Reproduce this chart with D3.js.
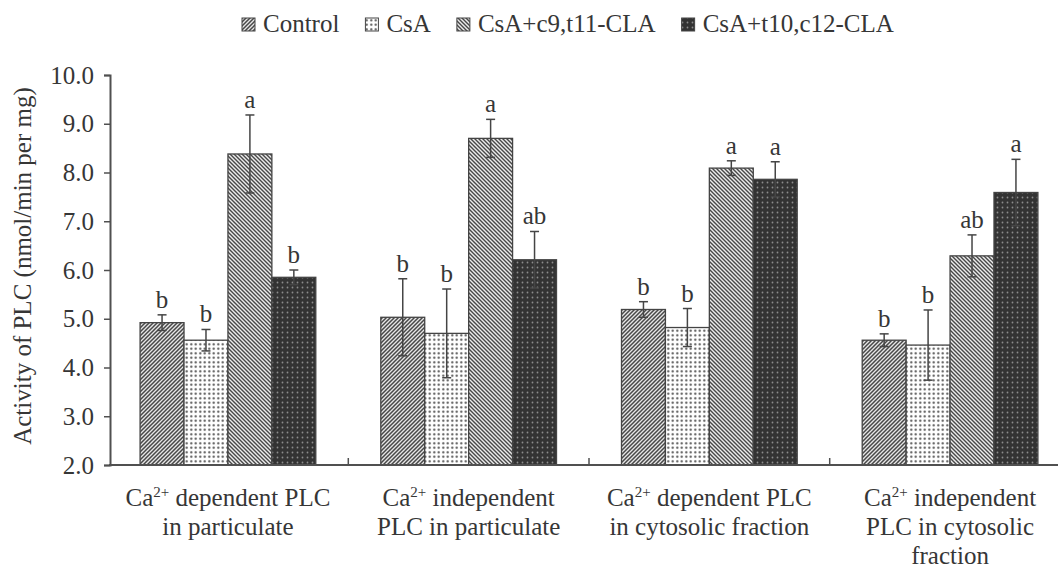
<!DOCTYPE html>
<html>
<head>
<meta charset="utf-8">
<script src="https://cdn.jsdelivr.net/npm/d3@7"></script>
<style>
  body { margin: 0; background: #fff; }
  svg { display: block; }
  text { font-family: "Liberation Serif", "Times New Roman", serif; fill: #363636; }
</style>
</head>
<body>
<div id="chart"></div>
<script>
// category labels, one array of lines per group ("Ca2+" gets a superscript)
var categories = [
  ["Ca2+ dependent PLC", "in particulate"],
  ["Ca2+ independent", "PLC in particulate"],
  ["Ca2+ dependent PLC", "in cytosolic fraction"],
  ["Ca2+ independent", "PLC in cytosolic", "fraction"]
];

var seriesNames = ["Control", "CsA", "CsA+c9,t11-CLA", "CsA+t10,c12-CLA"];

var control    = [4.92, 5.03, 5.19, 4.56];
var controlErr = [0.16, 0.79, 0.16, 0.13];
var csa        = [4.56, 4.70, 4.82, 4.46];
var csaErr     = [0.22, 0.91, 0.39, 0.72];
var c9t11      = [8.38, 8.70, 8.09, 6.29];
var c9t11Err   = [0.80, 0.39, 0.15, 0.43];
var t10c12     = [5.85, 6.21, 7.86, 7.59];
var t10c12Err  = [0.15, 0.58, 0.36, 0.68];

var controlLetters = ["b", "b", "b", "b"];
var csaLetters     = ["b", "b", "b", "b"];
var c9t11Letters   = ["a", "a", "a", "ab"];
var t10c12Letters  = ["b", "ab", "a", "a"];

var yTicks = [2, 3, 4, 5, 6, 7, 8, 9, 10];

var svgWidth = 1058;
var svgHeight = 571;

var plot = { left: 110, right: 1068, top: 75, bottom: 465 };
var fontSize = 25;
var serif = "Liberation Serif, Times New Roman, serif";
var ink = "#363636";
var axisColor = "#505050";

var values = [control, csa, c9t11, t10c12];
var errors = [controlErr, csaErr, c9t11Err, t10c12Err];
var letters = [controlLetters, csaLetters, c9t11Letters, t10c12Letters];
var fills = ["url(#pControl)", "url(#pCsA)", "url(#pC9)", "url(#pT10)"];

var svg = d3.select("#chart")
  .append("svg")
  .attr("width", svgWidth)
  .attr("height", svgHeight)
  .attr("font-family", serif);

makePatterns(svg.append("defs"));

var x0 = d3.scaleBand()
  .domain(d3.range(categories.length))
  .range([plot.left, plot.right])
  .paddingInner(0.27)
  .paddingOuter(0.125);

var x1 = d3.scaleBand()
  .domain(d3.range(seriesNames.length))
  .range([0, x0.bandwidth()]);

var y = d3.scaleLinear()
  .domain([2, 10])
  .range([plot.bottom, plot.top]);

// bars, one row per (category, series)
var rows = [];
categories.forEach((c, i) => {
  seriesNames.forEach((s, j) => {
    rows.push({ cat: i, ser: j, v: values[j][i], e: errors[j][i], l: letters[j][i] });
  });
});

var bars = svg.append("g");

bars.selectAll("rect")
  .data(rows)
  .enter()
  .append("rect")
  .attr("x", d => x0(d.cat) + x1(d.ser))
  .attr("y", d => y(d.v))
  .attr("width", x1.bandwidth())
  .attr("height", d => y(2) - y(d.v))
  .attr("fill", d => fills[d.ser])
  .attr("stroke", "#444")
  .attr("stroke-width", 1.3);

// error bars
var errG = svg.append("g")
  .attr("stroke", "#454545")
  .attr("stroke-width", 1.5);

rows.forEach(d => {
  var cx = x0(d.cat) + x1(d.ser) + x1.bandwidth() / 2;
  errG.append("line")
    .attr("x1", cx).attr("x2", cx)
    .attr("y1", y(d.v + d.e)).attr("y2", y(d.v - d.e));
  errG.append("line")
    .attr("x1", cx - 4.5).attr("x2", cx + 4.5)
    .attr("y1", y(d.v + d.e)).attr("y2", y(d.v + d.e));
  errG.append("line")
    .attr("x1", cx - 4.5).attr("x2", cx + 4.5)
    .attr("y1", y(d.v - d.e)).attr("y2", y(d.v - d.e));
});

// significance letters
svg.append("g")
  .selectAll("text")
  .data(rows)
  .enter()
  .append("text")
  .attr("x", d => x0(d.cat) + x1(d.ser) + x1.bandwidth() / 2)
  .attr("y", d => y(d.v + d.e) - 7)
  .attr("text-anchor", "middle")
  .attr("font-size", fontSize)
  .text(d => d.l);

// y axis
var yAxis = d3.axisLeft(y)
  .tickValues(yTicks)
  .tickFormat(d3.format(".1f"))
  .tickSize(6)
  .tickPadding(10);

var yG = svg.append("g")
  .attr("transform", `translate(${plot.left}, 0)`)
  .call(yAxis)
  .attr("font-family", serif);

yG.select(".domain").attr("stroke", axisColor).attr("stroke-width", 2);
yG.selectAll(".tick line").attr("stroke", axisColor).attr("stroke-width", 1.5);
yG.selectAll(".tick text")
  .attr("font-size", fontSize)
  .attr("fill", ink);

// x axis line with group separator ticks
var xG = svg.append("g");
xG.append("line")
  .attr("x1", plot.left - 1).attr("x2", plot.right)
  .attr("y1", y(2)).attr("y2", y(2))
  .attr("stroke", axisColor)
  .attr("stroke-width", 2);

var gap = x0.step() * x0.paddingInner() / 2;
xG.selectAll(".sep")
  .data(d3.range(1, categories.length))
  .enter()
  .append("line")
  .attr("x1", d => x0(d) - gap).attr("x2", d => x0(d) - gap)
  .attr("y1", y(2)).attr("y2", y(2) - 7)
  .attr("stroke", axisColor)
  .attr("stroke-width", 1.5);

// category labels
categories.forEach((lines, i) => {
  lines.forEach((line, k) => {
    var t = svg.append("text")
      .attr("x", x0(i) + x0.bandwidth() / 2)
      .attr("y", 506 + k * 29)
      .attr("text-anchor", "middle")
      .attr("font-size", fontSize);
    if (line.indexOf("Ca2+") === 0) {
      t.append("tspan").text("Ca");
      t.append("tspan").attr("font-size", 15).attr("dy", -9).text("2+");
      t.append("tspan").attr("dy", 9).text(line.slice(4));
    } else {
      t.text(line);
    }
  });
});

// y title
svg.append("text")
  .attr("transform", "rotate(-90)")
  .attr("x", -266)
  .attr("y", 31)
  .attr("text-anchor", "middle")
  .attr("font-size", fontSize)
  .text("Activity of PLC (nmol/min per mg)");

// legend
var legend = svg.append("g");
var lx = 242;
seriesNames.forEach((s, j) => {
  legend.append("rect")
    .attr("x", lx).attr("y", 18)
    .attr("width", 13).attr("height", 13)
    .attr("fill", fills[j])
    .attr("stroke", "#444")
    .attr("stroke-width", 1);
  var t = legend.append("text")
    .attr("x", lx + 21)
    .attr("y", 32)
    .attr("font-size", fontSize)
    .text(s);
  lx = lx + 21 + t.node().getComputedTextLength() + 26;
});

function makePatterns(defs) {
  var p = defs.append("pattern")
    .attr("id", "pControl")
    .attr("patternUnits", "userSpaceOnUse")
    .attr("width", 4).attr("height", 4);
  p.append("rect").attr("width", 4).attr("height", 4).attr("fill", "#e6e6e6");
  p.append("path")
    .attr("d", "M-1,1 l2,-2 M0,4 l4,-4 M3,5 l2,-2")
    .attr("stroke", "#484848")
    .attr("stroke-width", 1.5);

  p = defs.append("pattern")
    .attr("id", "pC9")
    .attr("patternUnits", "userSpaceOnUse")
    .attr("width", 4).attr("height", 4);
  p.append("rect").attr("width", 4).attr("height", 4).attr("fill", "#ececec");
  p.append("path")
    .attr("d", "M-1,3 l2,2 M0,0 l4,4 M3,-1 l2,2")
    .attr("stroke", "#484848")
    .attr("stroke-width", 1.4);

  p = defs.append("pattern")
    .attr("id", "pCsA")
    .attr("patternUnits", "userSpaceOnUse")
    .attr("width", 4.5).attr("height", 4.5);
  p.append("rect").attr("width", 4.5).attr("height", 4.5).attr("fill", "#fff");
  p.append("circle").attr("cx", 2.25).attr("cy", 2.25).attr("r", 1.1).attr("fill", "#4c4c4c");

  p = defs.append("pattern")
    .attr("id", "pT10")
    .attr("patternUnits", "userSpaceOnUse")
    .attr("width", 5).attr("height", 5);
  p.append("rect").attr("width", 5).attr("height", 5).attr("fill", "#333");
  p.append("circle").attr("cx", 2.5).attr("cy", 2.5).attr("r", 0.9).attr("fill", "#8c8c8c");
}
</script>
</body>
</html>
